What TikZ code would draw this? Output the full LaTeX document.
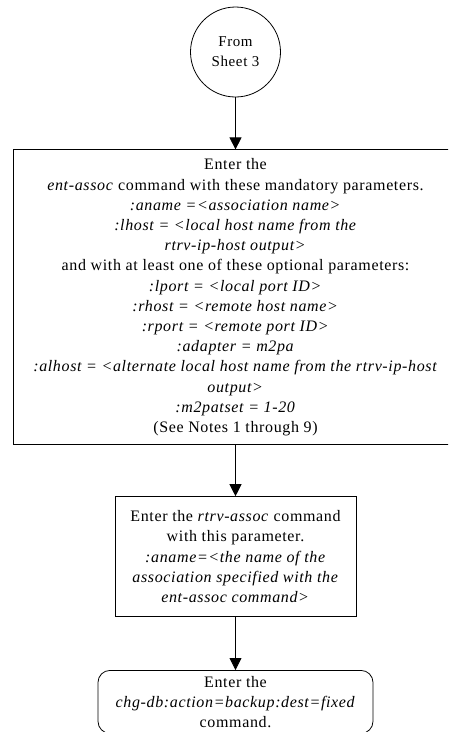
\documentclass[tikz,border=0pt]{standalone}
\usepackage{fontspec}
\setmainfont{Liberation Serif}[LetterSpace=4]
\usetikzlibrary{arrows.meta,positioning,shapes.geometric}

\begin{document}
\begin{tikzpicture}[x=1pt, y=-1pt, font=\fontsize{16}{20.2}\selectfont,
		node distance=45pt,
		stepbox/.style={draw, line width=0.8pt, inner sep=0pt, align=center},
		flowarrow/.style={-{Triangle[length=12pt, width=12pt]}, line width=0.8pt}]
			\useasboundingbox (0,0) rectangle (448,732);
			\clip (0,0) rectangle (448,732);
			\node[draw, circle, line width=0.8pt, minimum size=90pt, inner sep=0pt,
				align=center, font=\fontsize{15}{20}\selectfont] (sheet) at (235.5,52)
			{From\\Sheet 3};
			\node[stepbox, minimum width=444pt, minimum height=295pt,
				below=52pt of sheet] (entassoc)
			{Enter the\\
			\textit{ent-assoc} command with these mandatory parameters.\\
			\textit{:aname =<association name>}\\
			\textit{:lhost = <local host name from the}\\
			\textit{rtrv-ip-host output>}\\
			and with at least one of these optional parameters:\\
			\textit{:lport = <local port ID>}\\
			\textit{:rhost = <remote host name>}\\
			\textit{:rport = <remote port ID>}\\
			\textit{:adapter = m2pa}\\
			\textit{:alhost = <alternate local host name from the rtrv-ip-host}\\
			\textit{output>}\\
			\textit{:m2patset = 1-20}\\
			(See Notes 1 through 9)};
			\node[stepbox, minimum width=241pt, minimum height=120pt,
				below=51pt of entassoc.south -| sheet, anchor=north] (rtrvassoc)
			{Enter the \textit{rtrv-assoc} command\\
			with this parameter.\\
			\textit{:aname=<the name of the}\\
			\textit{association specified with the}\\
			\textit{ent-assoc command>}};
			\node[stepbox, rounded corners=12pt, minimum width=275pt, minimum height=63pt,
				below=53pt of rtrvassoc] (chgdb)
			{Enter the\\
			\textit{chg-db:action=backup:dest=fixed}\\
			command.};
			\draw[flowarrow] (sheet) -- (entassoc.north -| sheet);
			\draw[flowarrow] (entassoc.south -| sheet) -- (rtrvassoc);
			\draw[flowarrow] (rtrvassoc) -- (chgdb);
		\end{tikzpicture}
\end{document}
